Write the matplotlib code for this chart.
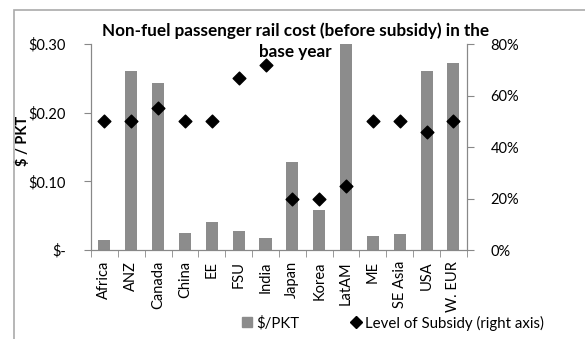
import matplotlib.pyplot as plt
from matplotlib.patches import Rectangle
from matplotlib.lines import Line2D
from matplotlib.ticker import FixedLocator, FuncFormatter
import numpy as np

plt.rcParams['font.family'] = ['Lato', 'DejaVu Sans']

regions = ['Africa', 'ANZ', 'Canada', 'China', 'EE', 'FSU', 'India',
           'Japan', 'Korea', 'LatAM', 'ME', 'SE Asia', 'USA', 'W. EUR']
cost_per_pkt = [0.015, 0.261, 0.243, 0.025, 0.041, 0.028, 0.018,
                0.128, 0.059, 0.32, 0.021, 0.023, 0.261, 0.273]
subsidy_pct = [50, 50, 55, 50, 50, 67, 72, 20, 20, 25, 50, 50, 46, 50]

bar_color = '#8c8c8c'
axis_color = '#888888'

fig = plt.figure(figsize=(5.85, 3.39), dpi=100)
ax = fig.add_axes([0.1556, 0.2625, 0.6424, 0.6075])
ax2 = ax.twinx()

x = np.arange(len(regions))
ax.bar(x, cost_per_pkt, width=0.45, color=bar_color, zorder=2)
ax2.scatter(x, subsidy_pct, marker='D', s=42, color='black', zorder=3)

ax.set_xlim(-0.5, len(regions) - 0.5)
ax.set_ylim(0, 0.30)
ax2.set_ylim(0, 80)

ax.set_yticks([0, 0.10, 0.20, 0.30])
ax.yaxis.set_major_formatter(FuncFormatter(lambda v, p: '$-' if v == 0 else f'${v:.2f}'))
ax2.set_yticks([0, 20, 40, 60, 80])
ax2.yaxis.set_major_formatter(FuncFormatter(lambda v, p: f'{v:.0f}%'))

ax.set_xticks(x)
ax.set_xticklabels(regions, rotation=90)
ax.xaxis.set_minor_locator(FixedLocator(np.arange(-0.5, len(regions), 1.0)))
ax.tick_params(axis='x', which='major', length=0, pad=8, labelsize=10.5)
ax.tick_params(axis='x', which='minor', length=5, color=axis_color, direction='out')

for a in (ax, ax2):
    a.spines['top'].set_visible(False)
    for s in ('left', 'right', 'bottom'):
        a.spines[s].set_color(axis_color)
    a.tick_params(axis='y', length=5, color=axis_color, labelsize=10.5)
ax.tick_params(axis='y', pad=13)
ax2.tick_params(axis='y', pad=12)

ax.set_ylabel('$ / PKT', fontsize=10.5, fontweight='bold')
ax.yaxis.set_label_coords(-0.162, 0.53)

fig.text(0.505, 0.935, 'Non-fuel passenger rail cost (before subsidy) in the\nbase year',
         ha='center', va='top', fontsize=12.3, fontweight='bold', linespacing=1.45)

handles = [Line2D([], [], marker='s', linestyle='none', color=bar_color, markersize=7),
           Line2D([], [], marker='D', linestyle='none', color='black', markersize=6)]
fig.legend(handles, ['$/PKT', 'Level of Subsidy (right axis)'], loc='center',
           bbox_to_anchor=(0.672, 0.047), ncol=2, frameon=False, fontsize=10.8,
           handlelength=0.6, handletextpad=0.3, columnspacing=3.5)

# chart frame
fig.patches.append(Rectangle((14 / 585, -0.05), 1.0, 1 - 10 / 339 + 0.05,
                             transform=fig.transFigure, fill=False,
                             edgecolor='#aaaaaa', linewidth=1.2))

fig.savefig('out.png', dpi=100)
